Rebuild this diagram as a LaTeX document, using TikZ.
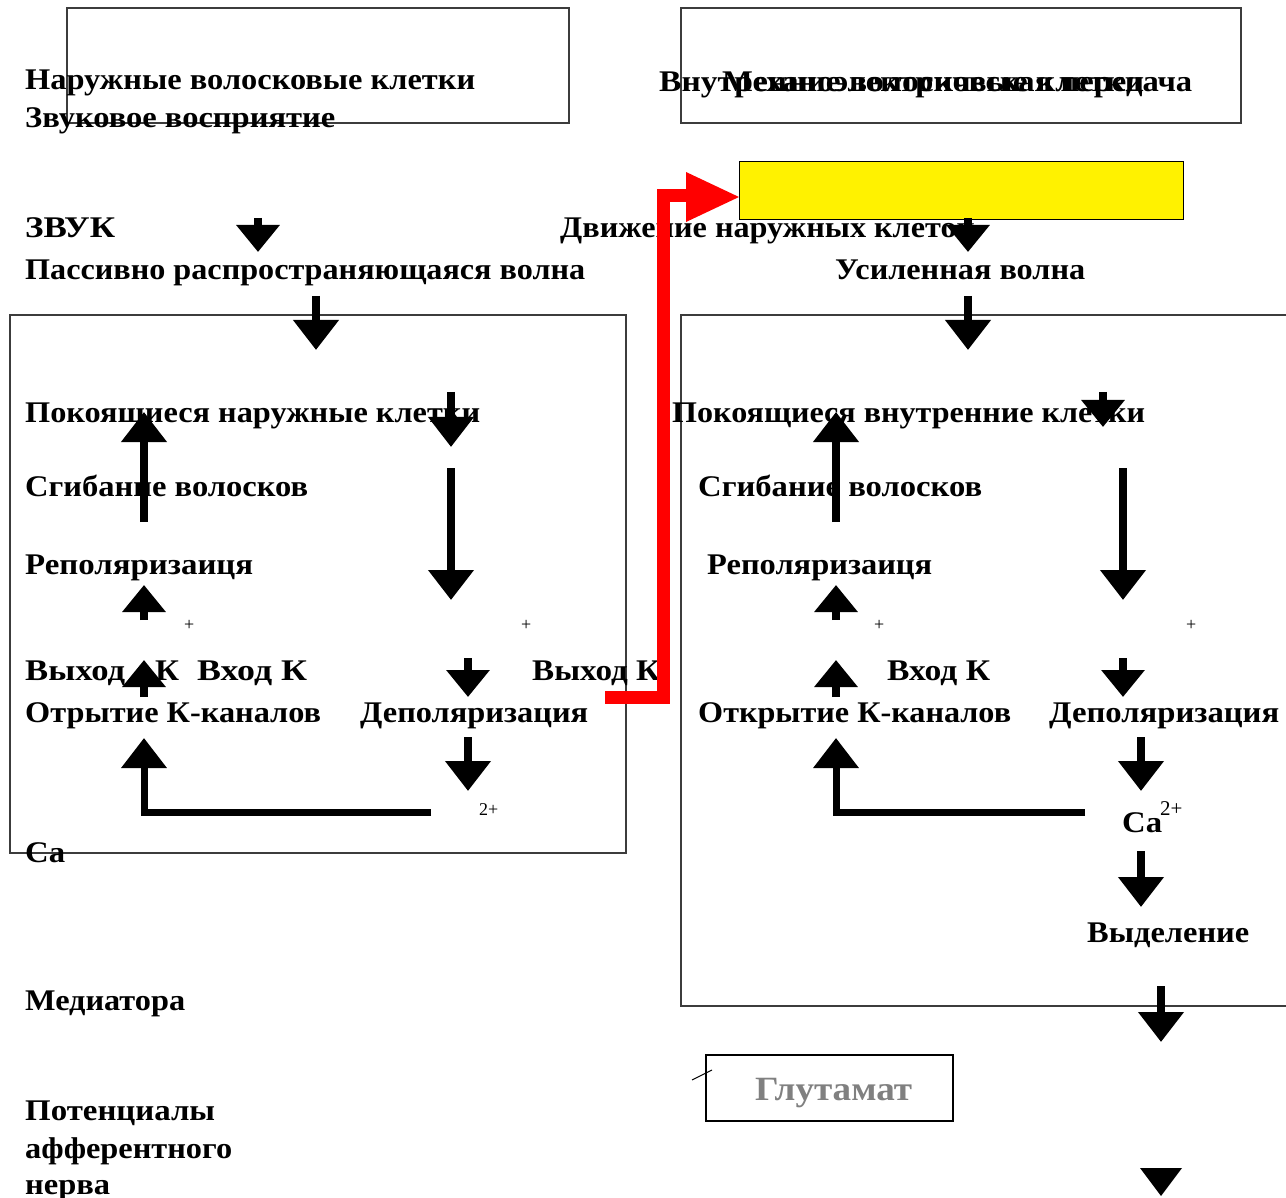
\documentclass[tikz,border=0pt]{standalone}
\usepackage{fontspec}
\setmainfont{Liberation Serif}
\usetikzlibrary{arrows.meta}
\newcommand\fitw[2]{\resizebox{#1pt}{\height}{#2}}
\definecolor{glugray}{RGB}{128,128,128}
\definecolor{boxline}{RGB}{60,60,60}
\begin{document}
\begin{tikzpicture}[x=1pt,y=-1pt,
  txt/.style={font=\bfseries\fontsize{30}{30}\selectfont, inner sep=0pt, anchor=base west},
  sml/.style={font=\fontsize{18}{18}\selectfont, inner sep=0pt, anchor=base west},
  frame/.style={draw=boxline, line width=1.2pt},
  arr/.style={line width=8pt, -{Triangle[width=44pt,length=30pt]}},
  arrs/.style={line width=8pt, -{Triangle[width=42pt,length=27pt]}},
  redarr/.style={draw=red, line width=13pt}]
\useasboundingbox (0,0) rectangle (1286,1198);
\fill[white] (0,0) rectangle (1286,1198);

% frames
\draw[frame] (67,8) rectangle (569,123);
\draw[frame] (681,8) rectangle (1241,123);
\draw[frame] (10,315) rectangle (626,853);
\draw[frame] (1290,315) -- (681,315) -- (681,1006) -- (1290,1006);
\node[draw=black, fill=yellow, line width=0.8pt, minimum width=444pt, minimum height=58pt, inner sep=0pt, anchor=north west] (yel) at (739,161) {};

% texts
\node[txt] (t1) at (25,90) {\fitw{450}{Наружные волосковые клетки}};
\node[txt] (t2) at (25,128) {\fitw{310}{Звуковое восприятие}};
\node[txt] (t3) at (659,92) {\fitw{485}{Внутренние волосковые клетки}};
\node[txt] (t4) at (722,92) {\fitw{470}{Механоэлектрическая передача}};
\node[txt] (t5) at (25,238) {\fitw{90}{ЗВУК}};
\node[txt] (t6) at (25,280) {\fitw{560}{Пассивно распространяющаяся волна}};
\node[txt] (t7) at (560,238) {\fitw{415}{Движение наружных клеток}};
\node[txt] (t8) at (835,280) {\fitw{250}{Усиленная волна}};
\node[txt] (t9) at (25,422) {\fitw{455}{Покоящиеся наружные клетки}};
\node[txt] (t10) at (672,422) {\fitw{473}{Покоящиеся внутренние клетки}};
\node[txt] (t11) at (25,496) {\fitw{283}{Сгибание волосков}};
\node[txt] (t12) at (698,496) {\fitw{284}{Сгибание волосков}};
\node[txt] (t13) at (25,574) {\fitw{228}{Реполяризаиця}};
\node[txt] (t14) at (707,574) {\fitw{225}{Реполяризаиця}};
\node[txt] (t15) at (25,680) {\fitw{100}{Выход}};
\node[txt] (t15k) at (155,680) {\fitw{24}{К}};
\node[txt] (t16) at (197,680) {\fitw{110}{Вход К}};
\node[txt] (t17) at (532,680) {\fitw{128}{Выход К}};
\node[txt] (t18) at (887,680) {\fitw{103}{Вход К}};
\node[txt] (t19) at (25,722) {\fitw{296}{Отрытие К-каналов}};
\node[txt] (t20) at (360,722) {\fitw{228}{Деполяризация}};
\node[txt] (t21) at (698,722) {\fitw{313}{Открытие К-каналов}};
\node[txt] (t22) at (1049,722) {\fitw{230}{Деполяризация}};
\node[txt] (t23) at (25,862) {\fitw{40}{Ca}};
\node[txt] (t24) at (1122,832) {\fitw{40}{Ca}};
\node[sml, font=\fontsize{21}{21}\selectfont] (t24s) at (1160,815) {2+};
\node[sml] (t25) at (479,815) {2+};
\node[sml] (p1) at (184,630) {+};
\node[sml] (p2) at (521,630) {+};
\node[sml] (p3) at (874,630) {+};
\node[sml] (p4) at (1186,630) {+};
\node[txt] (t26) at (1087,942) {\fitw{162}{Выделение}};
\node[txt] (t27) at (25,1010) {\fitw{160}{Медиатора}};
\node[txt] (t28) at (25,1120) {\fitw{190}{Потенциалы}};
\node[txt] (t29) at (25,1158) {\fitw{207}{афферентного}};
\node[txt] (t30) at (25,1194) {\fitw{85}{нерва}};

% Glutamat box
\node[draw=black, line width=1.5pt, minimum width=247pt, minimum height=66pt, inner sep=0pt, anchor=north west] (glu) at (705,1054) {};
\node[txt, font=\bfseries\fontsize{34}{34}\selectfont, text=glugray] (glut) at (755,1100) {\fitw{157}{Глутамат}};
\draw[line width=1pt] (692,1080) -- (712,1070);

% black arrows, left
\draw[arrs] (258,218) -- (258,252);
\draw[arr] (316,296) -- (316,350);
\draw[arr] (144,522) -- (144,412);
\draw[arr] (451,392) -- (451,447);
\draw[arr] (451,468) -- (451,600);
\draw[arrs] (144,620) -- (144,585);
\draw[arrs] (144,697) -- (144,660);
\draw[arrs] (468,658) -- (468,697);
\draw[arr] (468,737) -- (468,791);
\draw[arr, line width=7pt] (431,812) -- (144,812) -- (144,738);

% black arrows, right
\draw[arrs] (968,218) -- (968,252);
\draw[arr] (968,296) -- (968,350);
\draw[arr] (836,522) -- (836,412);
\draw[arrs] (1103,392) -- (1103,427);
\draw[arr] (1123,468) -- (1123,600);
\draw[arrs] (836,620) -- (836,585);
\draw[arrs] (836,697) -- (836,660);
\draw[arrs] (1123,658) -- (1123,697);
\draw[arr] (1141,737) -- (1141,791);
\draw[arr, line width=7pt] (1085,812) -- (836,812) -- (836,738);
\draw[arr] (1141,851) -- (1141,907);
\draw[arr] (1161,986) -- (1161,1042);
\fill (1140,1168) -- (1182,1168) -- (1161,1196) -- cycle;

% red arrow
\draw[redarr] (605,697) -- (663,697) -- (663,196) -- (690,196);
\fill[red] (686,172) -- (739,197) -- (686,222) -- cycle;
\end{tikzpicture}
\end{document}
